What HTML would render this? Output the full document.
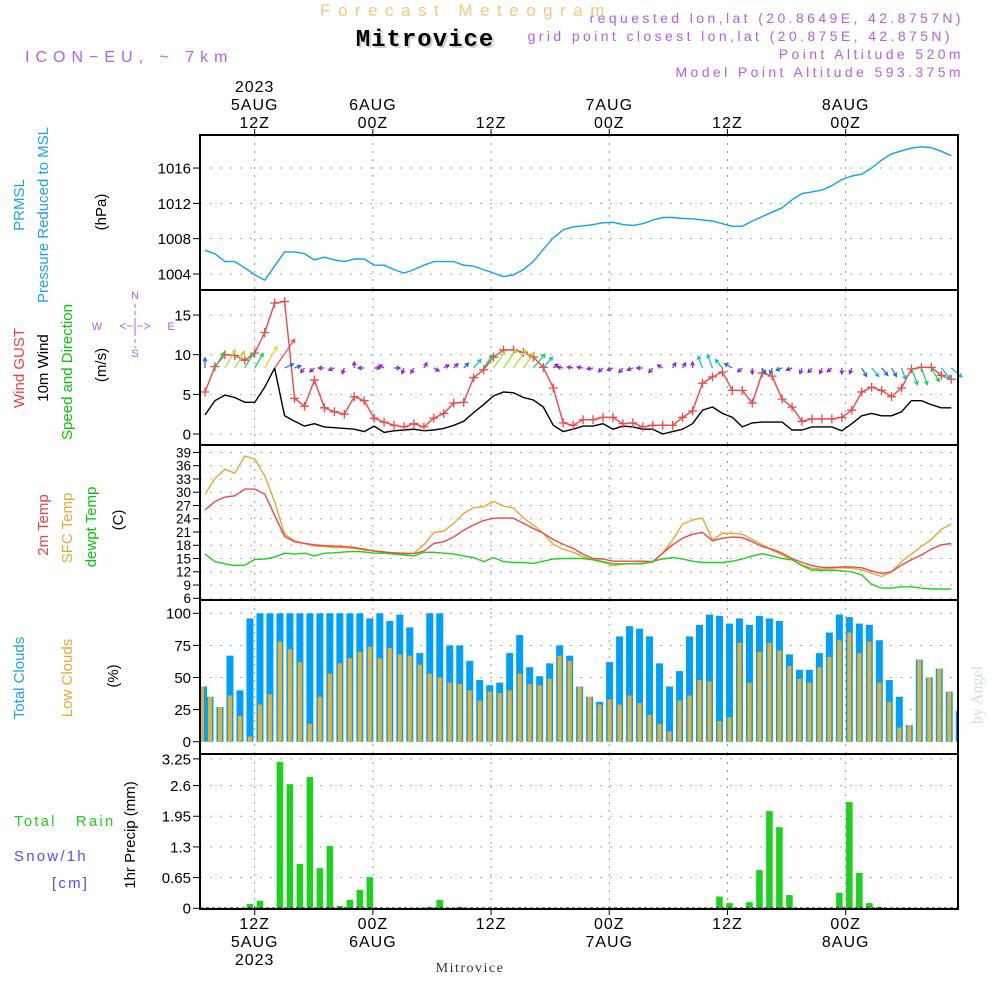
<!DOCTYPE html>
<html><head><meta charset="utf-8"><title>Mitrovice meteogram</title>
<style>
html,body{margin:0;padding:0;background:#fff;}
svg{display:block;font-family:"Liberation Sans",sans-serif;}
</style></head>
<body>
<svg id="chart" width="1000" height="1000" viewBox="0 0 1000 1000">
<g id="grid"></g>
<g id="marks"></g>
<g id="axes"></g>
<g>
<text x="466" y="16" text-anchor="middle" font-size="17" fill="#f6c880" letter-spacing="7.5">Forecast Meteogram</text>
<text x="427" y="48" text-anchor="middle" font-size="24" font-weight="bold" font-family="Liberation Mono,monospace" letter-spacing="1" fill="#c8d8c8">Mitrovice</text>
<text x="425" y="46" text-anchor="middle" font-size="24" font-weight="bold" font-family="Liberation Mono,monospace" letter-spacing="1" fill="#000">Mitrovice</text>
<text x="25" y="62" font-size="16" fill="#b060f0" letter-spacing="6">ICON−EU, ~ 7km</text>
<g font-size="14" fill="#b060f0" text-anchor="end" letter-spacing="3.4">
<text x="964" y="23">requested lon,lat (20.8649E, 42.8757N)</text>
<text x="953" y="41">grid point closest lon,lat (20.875E, 42.875N)</text>
<text x="964" y="59">Point Altitude 520m</text>
<text x="964" y="77">Model Point Altitude 593.375m</text>
</g>
</g>
<g font-size="15">
<text transform="translate(24,205) rotate(-90)" text-anchor="middle" fill="#20a0f0">PRMSL</text>
<text transform="translate(48,215) rotate(-90)" text-anchor="middle" fill="#20a0f0">Pressure Reduced to MSL</text>
<text transform="translate(106,212) rotate(-90)" text-anchor="middle" fill="#000">(hPa)</text>
<text transform="translate(24,368) rotate(-90)" text-anchor="middle" fill="#f04040">Wind GUST</text>
<text transform="translate(48,368) rotate(-90)" text-anchor="middle" fill="#000">10m Wind</text>
<text transform="translate(72,372) rotate(-90)" text-anchor="middle" fill="#10c010">Speed and Direction</text>
<text transform="translate(106,365) rotate(-90)" text-anchor="middle" fill="#000">(m/s)</text>
<g fill="#b060f0" font-size="11">
<text x="135" y="299" text-anchor="middle">N</text>
<text x="135" y="357" text-anchor="middle">S</text>
<text x="97" y="330" text-anchor="middle">W</text>
<text x="171" y="330" text-anchor="middle">E</text>
<text x="135" y="330" text-anchor="middle" font-size="12">&lt;−|−&gt;</text>
<line x1="135" y1="304" x2="135" y2="348" stroke="#b060f0" stroke-dasharray="4,3"/>
</g>
<text transform="translate(48,525) rotate(-90)" text-anchor="middle" fill="#f04040">2m Temp</text>
<text transform="translate(72,528) rotate(-90)" text-anchor="middle" fill="#e8a830">SFC Temp</text>
<text transform="translate(96,527) rotate(-90)" text-anchor="middle" fill="#10c010">dewpt Temp</text>
<text transform="translate(123,520) rotate(-90)" text-anchor="middle" fill="#000">(C)</text>
<text transform="translate(24,678) rotate(-90)" text-anchor="middle" fill="#20a0f0">Total Clouds</text>
<text transform="translate(72,678) rotate(-90)" text-anchor="middle" fill="#e8a830">Low Clouds</text>
<text transform="translate(118,676) rotate(-90)" text-anchor="middle" fill="#000">(%)</text>
<text x="14" y="826" fill="#20d020" letter-spacing="2.2">Total&#160;&#160; Rain</text>
<text x="14" y="861" fill="#5050ff" letter-spacing="2.2">Snow/1h</text>
<text x="52" y="888" fill="#5050ff" letter-spacing="2.2">[cm]</text>
<text transform="translate(135,835) rotate(-90)" text-anchor="middle" fill="#000">1hr Precip (mm)</text>
</g>
<text transform="translate(982,695) rotate(-90)" text-anchor="middle" font-size="16" font-family="Liberation Serif,serif" fill="#d4dcd4">by Angel</text>
<text x="470" y="972" text-anchor="middle" font-size="14" font-family="Liberation Serif,serif" fill="#333" letter-spacing="1.5">Mitrovice</text>
</svg>
<script>
const pressure=[1006.7,1006.3,1005.4,1005.4,1004.7,1003.9,1003.3,1004.9,1006.5,1006.5,1006.3,1005.6,1005.9,1005.6,1005.4,1005.7,1005.7,1005.0,1005.0,1004.5,1004.1,1004.5,1005.0,1005.4,1005.4,1005.4,1005.0,1004.9,1004.5,1004.1,1003.7,1003.9,1004.5,1005.4,1006.8,1008.1,1009.0,1009.35,1009.45,1009.6,1009.8,1009.85,1009.6,1009.5,1009.7,1010.1,1010.4,1010.4,1010.3,1010.25,1010.1,1010.0,1009.7,1009.4,1009.4,1010.0,1010.5,1011.0,1011.5,1012.4,1013.1,1013.3,1013.5,1014.0,1014.7,1015.1,1015.3,1016.0,1016.9,1017.6,1017.95,1018.25,1018.4,1018.3,1017.9,1017.4];
const gust=[5.3,8.5,10.0,9.9,9.3,10.2,12.8,16.5,16.7,4.5,3.5,6.8,3.3,2.8,2.5,4.7,4.2,2.0,1.5,1.1,0.9,1.3,0.9,2.0,2.6,3.9,4.0,7.1,8.1,9.7,10.6,10.6,10.3,9.7,8.4,5.8,1.4,1.1,1.8,1.8,2.1,2.1,1.3,1.4,0.9,1.1,1.1,1.1,2.1,2.9,6.4,7.2,7.8,5.5,5.5,3.9,7.7,7.3,4.4,3.4,1.6,1.9,1.9,1.9,2.1,3.0,5.3,5.9,5.5,4.7,5.8,8.2,8.4,8.4,7.4,6.9];
const wind=[2.4,4.2,4.9,4.6,4.0,4.0,5.9,8.3,2.3,1.6,1.0,1.3,0.9,0.8,0.7,0.6,0.3,1.0,0.2,0.4,0.5,0.6,0.4,0.5,0.7,1.1,1.6,2.7,3.7,4.8,5.3,5.2,4.6,4.3,3.4,1.1,0.3,0.6,1.0,1.0,1.3,0.6,1.0,0.9,0.6,0.6,0,0.3,0.6,1.3,3.0,3.4,2.6,2.1,0.9,1.4,1.5,1.5,1.5,0.5,0.5,0.9,0.9,0.9,0.4,1.3,2.3,2.6,2.3,2.3,2.8,4.2,4.2,3.7,3.3,3.3];
const windDir=[0,30,30,30,30,30,30,35,65,70,220,230,270,250,200,0,270,90,300,90,200,210,30,120,60,45,45,40,35,35,35,35,35,40,40,50,280,280,280,260,230,250,220,250,270,220,300,30,30,0,340,340,320,300,230,180,150,200,250,250,200,220,200,230,180,200,150,140,140,150,160,160,160,150,140,130];
const temp2m=[26.0,27.9,28.9,29.2,30.7,30.7,29.6,24.8,20.0,18.8,18.4,18.1,17.9,17.8,17.7,17.5,17.1,16.7,16.5,16.3,16.2,16.1,16.7,18.4,18.8,19.9,21.4,22.6,23.6,24.1,24.2,24.1,23.0,21.8,20.7,19.3,18.2,17.3,16.0,15.0,14.9,14.4,14.4,14.4,14.4,14.3,16.2,18.1,19.6,20.5,20.9,19.0,19.6,19.9,19.7,18.8,17.7,17.1,16.2,15.0,14.1,13.4,13.0,13.0,13.1,13.1,12.9,12.2,11.6,12.0,13.5,14.7,15.8,17.1,18.1,18.4];
const tempSfc=[29.5,33.1,35.2,34.3,38.2,37.5,33.7,27.9,20.5,19.0,18.4,17.8,17.7,17.5,17.5,17.3,16.9,16.7,16.4,16.2,16.0,16.2,18.1,20.9,21.2,23.0,25.2,26.5,26.7,27.9,26.9,26.4,24.2,22.6,20.7,18.2,17.1,16.4,15.4,14.7,14.1,13.4,13.7,13.9,14.0,14.1,16.2,19.2,22.8,23.7,24.2,19.2,20.7,20.7,20.5,19.3,18.1,16.9,15.8,14.7,13.5,12.8,12.6,12.8,12.9,12.8,12.4,11.7,10.9,12.0,14.3,16.0,17.7,19.3,21.6,22.8];
const dewpt=[16.0,14.3,13.8,13.4,13.5,14.8,14.9,15.3,16.2,16.0,16.2,15.6,16.2,16.3,16.5,16.6,16.5,16.2,16.2,16.0,15.8,15.6,16.4,16.4,16.2,16.0,15.6,15.2,14.3,15.2,14.3,14.1,14.1,13.9,14.4,14.9,15.0,15.0,15.0,14.7,14.3,13.8,13.8,13.8,13.8,14.4,14.9,15.2,14.9,14.4,14.1,14.1,14.1,14.4,14.9,15.6,16.1,15.6,15.0,14.7,13.4,12.4,12.3,12.4,12.2,12.0,11.3,9.2,8.3,8.3,8.6,8.6,8.3,8.1,8.1,8.1];
const totalClouds=[43,35,27,67,40,96,100,100,100,100,100,100,100,100,100,100,100,96,100,94,99,89,69,100,100,75,75,63,48,44,46,69,83,58,51,61,75,67,43,35,31,62,82,90,88,82,61,43,55,82,91,99,98,92,96,91,98,96,94,68,56,56,69,85,99,97,92,91,79,48,35,13,64,50,57,39,24];
const lowClouds=[43,35,27,36,20,4,29,37,78,72,62,14,35,53,61,65,70,74,65,73,68,67,60,53,50,46,45,40,32,39,38,40,53,45,44,49,67,63,43,35,29,33,29,36,30,21,14,8,32,36,48,47,16,19,77,46,70,77,71,59,49,46,58,66,79,85,69,78,46,31,11,13,64,50,57,39,5];
const precip=[0,0,0,0,0,0.09,0.16,0.01,3.10,2.63,0.94,2.78,0.85,1.32,0.05,0.18,0.39,0.66,0,0,0,0,0,0.03,0.18,0,0.03,0,0,0,0,0,0,0,0,0,0,0,0,0,0,0,0,0,0,0,0,0,0,0,0,0,0.25,0.11,0,0.13,0.81,2.06,1.72,0.28,0,0,0,0,0.33,2.25,0.75,0.11,0.03,0,0,0,0,0,0,0,0];
const pTicks=[1004,1008,1012,1016];
const wTicks=[0,5,10,15];
const tTicks=[6,9,12,15,18,21,24,27,30,33,36,39];
const cTicks=[0,25,50,75,100];
const rTicks=[0,0.65,1.3,1.95,2.6,3.25];
const timeTicks=[5.55,17.55,29.55,41.55,53.55,65.55];
const topLabels=[["2023","5AUG","12Z"],["","6AUG","00Z"],["","","12Z"],["","7AUG","00Z"],["","","12Z"],["","8AUG","00Z"]];
const botLabels=[["12Z","5AUG","2023"],["00Z","6AUG",""],["12Z","",""],["00Z","7AUG",""],["12Z","",""],["00Z","8AUG",""]];

const NS="http://www.w3.org/2000/svg";
const L=200,R=958;
const xH=h=>200+h*9.85;
const xBar=i=>200+i*9.99;
const xPt=i=>205+i*9.95;
const yP=v=>274-(v-1004)*8.83;
const yW=v=>434-v*7.93;
const yT=v=>598.3-(v-6)*4.42;
const yC=v=>741.7-v*1.284;
const yR=v=>908.3-v*47.2;
const panels=[[135,290],[290,445],[445,600],[600,754],[754,909]];

function el(tag,attrs,parent){const e=document.createElementNS(NS,tag);for(const k in attrs)e.setAttribute(k,attrs[k]);parent.appendChild(e);return e;}
const grid=document.getElementById('grid'),marks=document.getElementById('marks'),axes=document.getElementById('axes');

panels.forEach(p=>{timeTicks.forEach(h=>{const x=xH(h);
  const g=el('line',{x1:x,x2:x,y1:p[0],y2:p[1],stroke:'#999','stroke-dasharray':'2,6'},grid);
  
  });});

function yAxis(ticks,yf,fs,fmt,name){ticks.forEach(v=>{const y=yf(v);
  const g=el('line',{x1:L,x2:R,y1:y,y2:y,stroke:'#aaa','stroke-dasharray':'2,8'},grid);
  
  
  el('line',{x1:L-7,x2:L,y1:y,y2:y,stroke:'#000'},axes);
  const t=el('text',{x:L-9,y:y+fs*0.36,'text-anchor':'end','font-size':fs,fill:'#000'},axes);
  t.textContent=fmt(v);
  
  });}
yAxis(pTicks,yP,15,v=>v,'pressure');
yAxis(wTicks,yW,15,v=>v,'wind');
yAxis(tTicks,yT,13.5,v=>v,'temp');
yAxis(cTicks,yC,15,v=>v,'cloud');
yAxis(rTicks,v=>v===3.25?yR(v)+4:yR(v),15,v=>v,'precip');

totalClouds.forEach((v,i)=>{const x=xBar(i);
  const b=el('rect',{x:Math.max(L,x-3.5),y:yC(v),width:Math.min(7,R-Math.max(L,x-3.5)),height:yC(0)-yC(v),fill:'#00a0f8'},marks);
  
  });
lowClouds.forEach((v,i)=>{const x=xBar(i);
  const b=el('rect',{x:Math.max(L,x-2),y:yC(v),width:Math.min(4,R-Math.max(L,x-2)),height:yC(0)-yC(v),fill:'#e8b030'},marks);
  
  });
precip.forEach((v,i)=>{if(v<=0)return;const x=xBar(i);
  const b=el('rect',{x:x-3.3,y:yR(v),width:6.6,height:yR(0)-yR(v),fill:'#20d020'},marks);
  
  });
el('line',{x1:L,x2:R,y1:yR(0),y2:yR(0),stroke:'#000','stroke-dasharray':'3,3','stroke-width':1.5},marks);

function line(arr,yf,color,name,w){const d=arr.map((v,i)=>(i?'L':'M')+xPt(i).toFixed(1)+','+yf(v).toFixed(1)).join('');
  const p=el('path',{d:d,fill:'none',stroke:color,'stroke-width':w||1.4,'stroke-linejoin':'round'},marks);
  
  }
line(pressure,yP,'#10a0f8','pressure-line');
line(wind,yW,'#000','wind-speed-line');
line(gust,yW,'#f04848','wind-gust-line');
gust.forEach((v,i)=>{const x=xPt(i),y=yW(v);
  const c=el('path',{d:`M${x-4.5},${y}H${x+4.5}M${x},${y-4.5}V${y+4.5}`,stroke:'#f04848','stroke-width':1.3},marks);
  
  });
line(tempSfc,yT,'#e8a830','sfc-temp-line');
line(temp2m,yT,'#f04848','temp-2m-line');
line(dewpt,yT,'#20d020','dewpoint-line');

function wcol(s){if(s<1.5)return '#9020e0';if(s<2.5)return '#2060ff';if(s<3.5)return '#10b8d8';if(s<4.5)return '#10d050';if(s<5.5)return '#a0e030';if(s<7)return '#e8d020';return '#f04848';}
windDir.forEach((d,i)=>{const s=wind[i];const len=Math.max(6,s*4.2);const a=d*Math.PI/180;
  const x0=xPt(i),y0=368;const x1=x0+Math.sin(a)*len,y1=y0-Math.cos(a)*len;
  const h=4,a1=a+Math.PI-0.5,a2=a+Math.PI+0.5;
  const c=wcol(s);
  const g=el('path',{d:`M${x0},${y0}L${x1},${y1}M${x1+Math.sin(a1)*h},${y1-Math.cos(a1)*h}L${x1},${y1}L${x1+Math.sin(a2)*h},${y1-Math.cos(a2)*h}`,stroke:c,fill:'none','stroke-width':1.2},marks);
  
  });

panels.forEach(p=>{const r=el('rect',{x:L,y:p[0],width:R-L,height:p[1]-p[0],fill:'none',stroke:'#000','stroke-width':2},axes);
  
  });

timeTicks.forEach((h,k)=>{const x=xH(h);
  el('line',{x1:x,x2:x,y1:129,y2:135,stroke:'#000'},axes);
  el('line',{x1:x,x2:x,y1:909,y2:915,stroke:'#000'},axes);
  topLabels[k].forEach((s,j)=>{if(!s)return;const t=el('text',{x:x,y:92+j*18,'text-anchor':'middle','font-size':16,fill:'#000','letter-spacing':1},axes);t.textContent=s;
    
    });
  botLabels[k].forEach((s,j)=>{if(!s)return;const t=el('text',{x:x,y:929+j*18,'text-anchor':'middle','font-size':16,fill:'#000','letter-spacing':1},axes);t.textContent=s;
    
    });});
</script>
</body></html>
